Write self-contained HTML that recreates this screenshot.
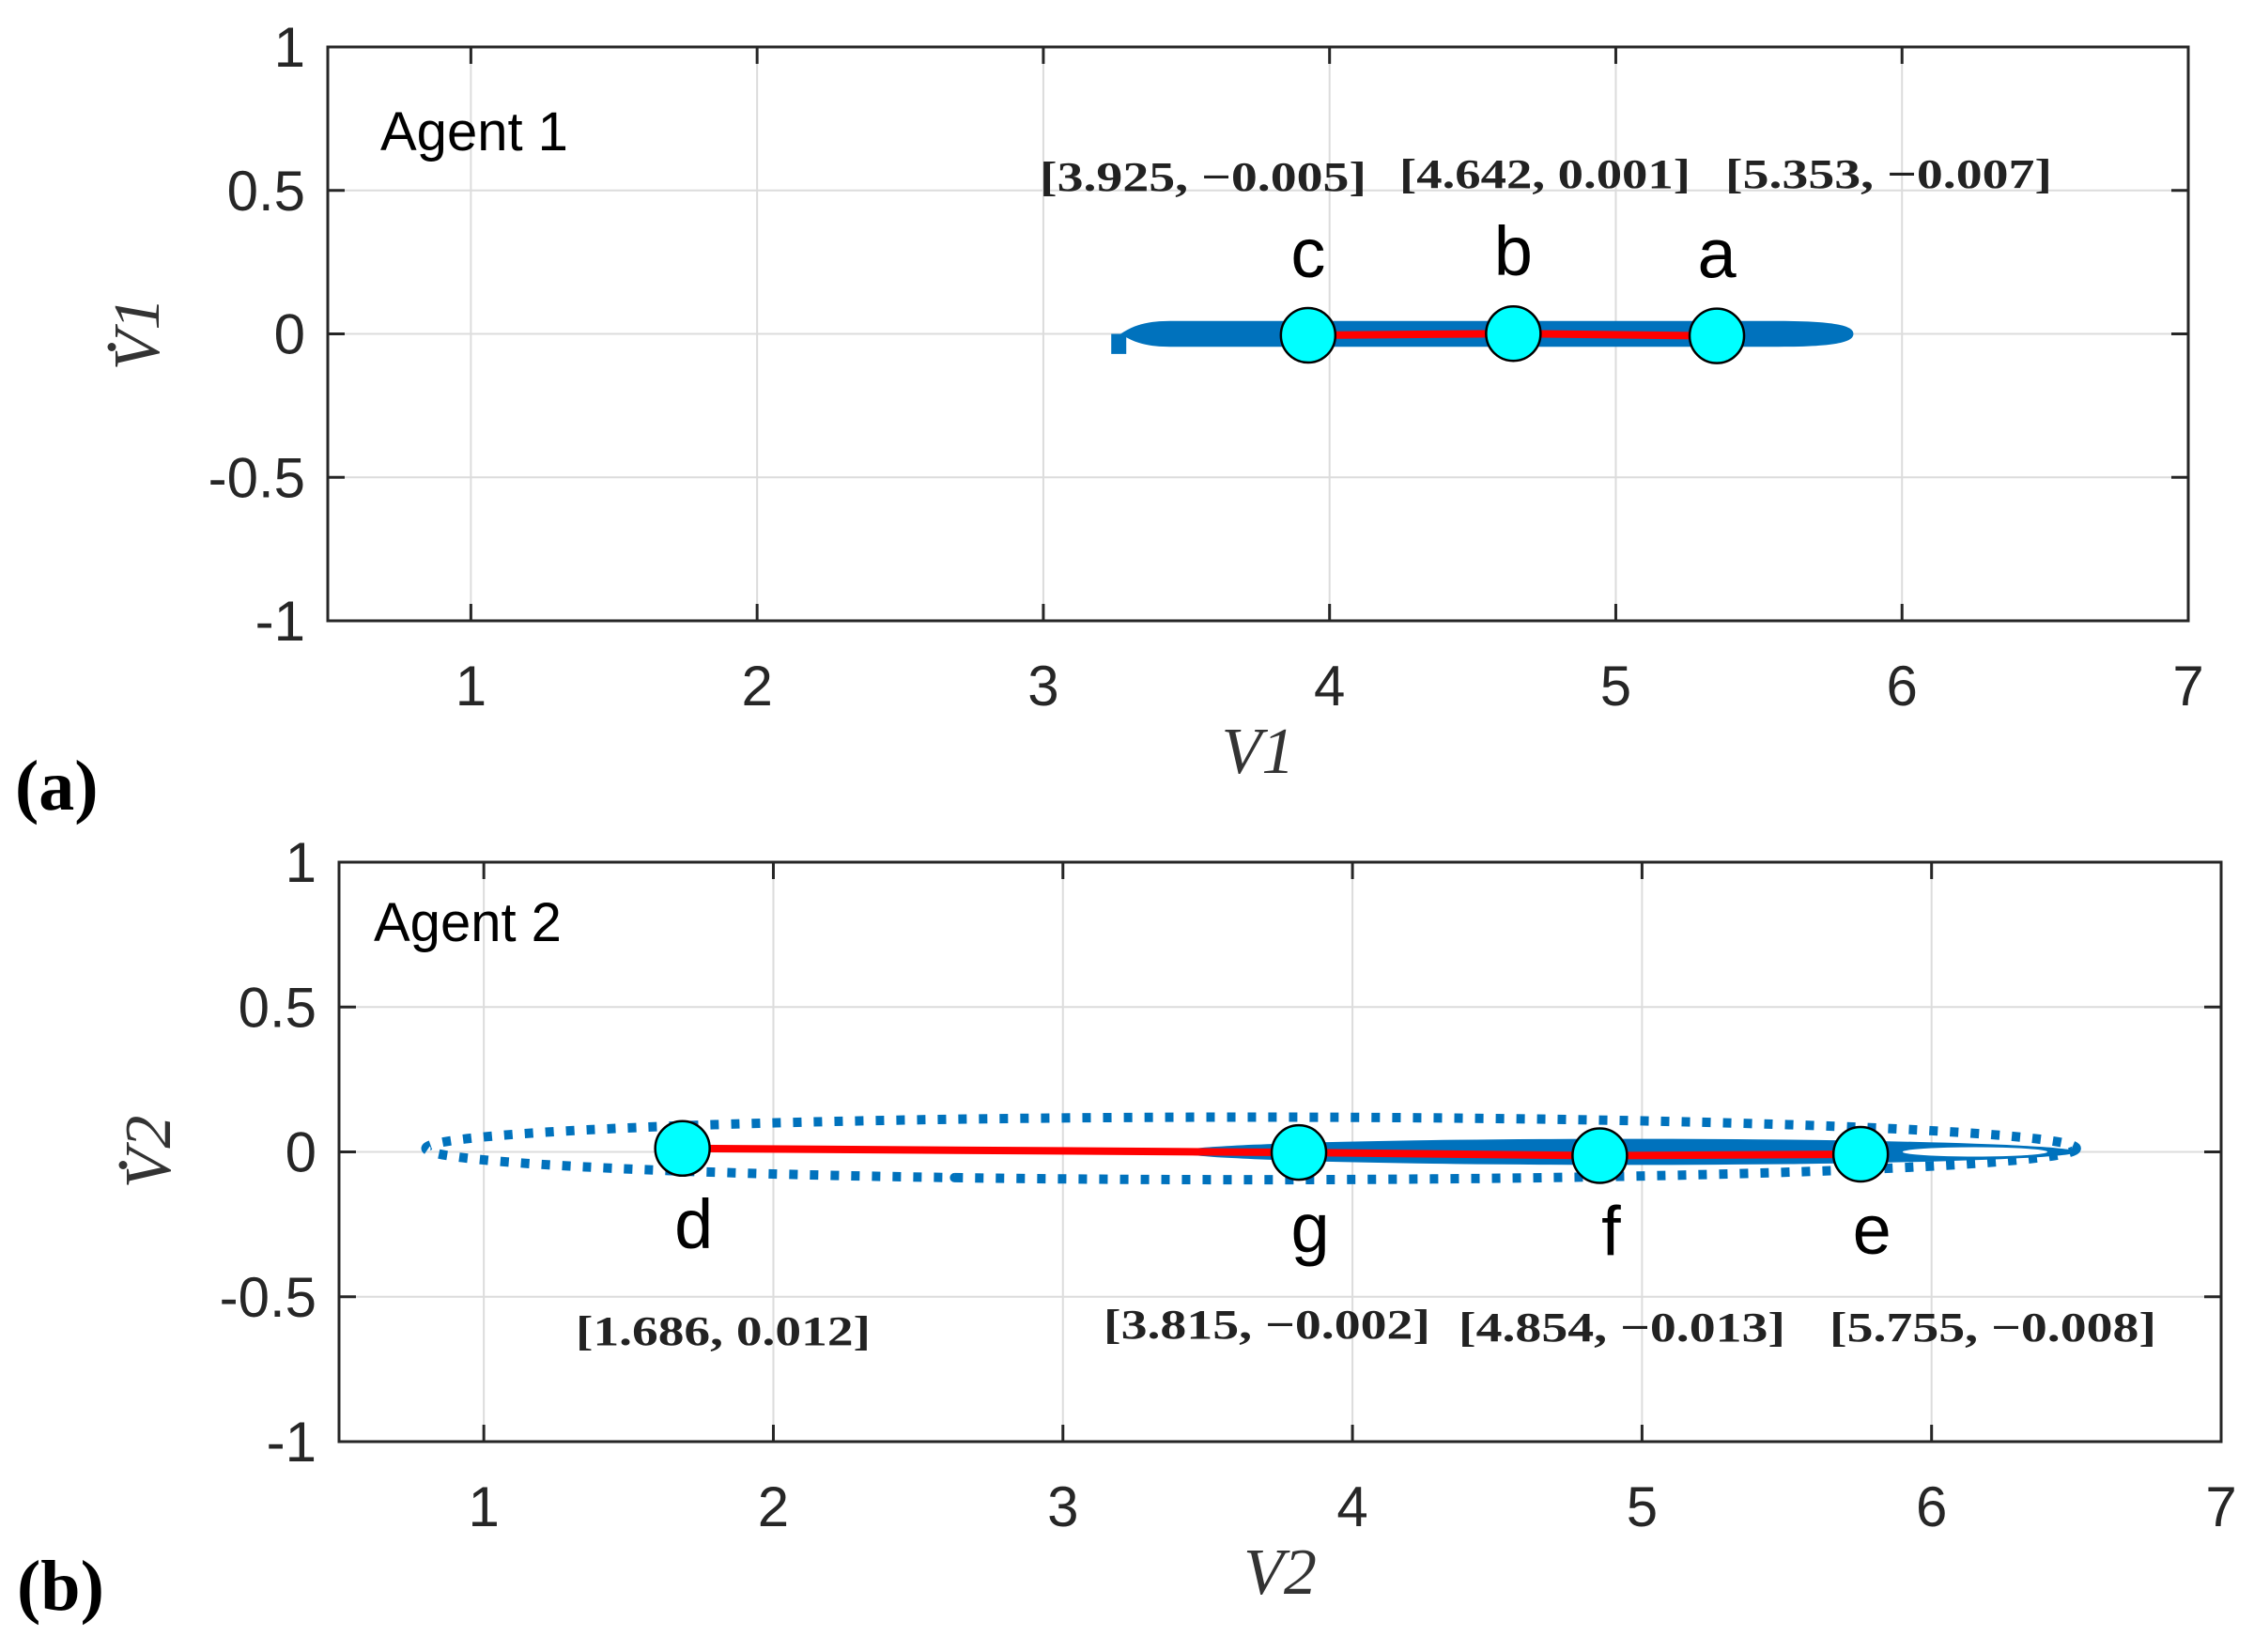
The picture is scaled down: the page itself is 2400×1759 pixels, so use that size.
<!DOCTYPE html>
<html><head><meta charset="utf-8"><style>
html,body{margin:0;padding:0;background:#fff;}
svg{display:block;}
</style></head><body>
<svg id="fig" width="2400" height="1759" viewBox="0 0 2400 1759" xmlns="http://www.w3.org/2000/svg"></svg>
<script>
// ---- data ----
const xTicks = [1,2,3,4,5,6,7];
const yTicks = [1,0.5,0,-0.5,-1];
const yTickLabels = ["1","0.5","0","-0.5","-1"];
// Agent 1 equilibrium points
const a1Names = ["a","b","c"];
const a1X = [5.353, 4.642, 3.925];
const a1Y = [-0.007, 0.001, -0.005];
// Agent 2 equilibrium points
const a2Names = ["d","g","f","e"];
const a2X = [1.686, 3.815, 4.854, 5.755];
const a2Y = [0.012, -0.002, -0.013, -0.008];
// trajectory envelopes: [xmin, xmax, yhalf]
const a1Band = [3.27, 5.83, 0.045];
const a2Outer = [0.8, 6.5, 0.108];
const a2Band = [3.4, 6.5, 0.045];

const NS = "http://www.w3.org/2000/svg";
const svg = document.getElementById('fig');
function mk(tag, attrs, parent){const e=document.createElementNS(NS,tag);for(const k in attrs)e.setAttribute(k,attrs[k]);(parent||svg).appendChild(e);return e;}

function panel(P){
  const g = mk('g',{});
  
  
  const sx = v => P.L + (v-0.5)/(6.5)*(P.R-P.L);
  const sy = v => P.T + (1-v)/2*(P.B-P.T);
  xTicks.forEach(t=>{ if(t<7){ const l=mk('line',{x1:sx(t),x2:sx(t),y1:P.T,y2:P.B,stroke:'#dcdcdc','stroke-width':2},g);
     }});
  yTicks.forEach(t=>{ const l=mk('line',{x1:P.L,x2:P.R,y1:sy(t),y2:sy(t),stroke:'#dcdcdc','stroke-width':2},g);
     });
  P.drawTraj(g, sx, sy);
  const pts = P.xs.map((x,i)=>sx(x)+','+sy(P.ys[i])).join(' ');
  const pl = mk('polyline',{points:pts,fill:'none',stroke:'#ff0000','stroke-width':8},g);
   
  P.xs.forEach((x,i)=>{
    const c=mk('circle',{cx:sx(x),cy:sy(P.ys[i]),r:29,fill:'#00ffff',stroke:'#000','stroke-width':2.5},g);
     
    const t=mk('text',{x:sx(x)+P.lblDx,y:sy(P.ys[i])+P.lblDy,'font-family':'Liberation Sans, sans-serif','font-size':74,'text-anchor':'middle',fill:'#000'},g);
    t.textContent=P.names[i];
     
    const a=mk('text',{x:P.annX[i],y:P.annY[i],'font-family':'Liberation Serif, serif','font-weight':'bold','font-size':44,'text-anchor':'middle',fill:'#222',textLength:P.annW[i],lengthAdjust:'spacingAndGlyphs'},g);
    a.textContent='['+x.toFixed(3)+', '+(P.ys[i]<0?'\u2212':'')+Math.abs(P.ys[i]).toFixed(3)+']';
     
  });
  const b=mk('rect',{x:P.L,y:P.T,width:P.R-P.L,height:P.B-P.T,fill:'none',stroke:'#262626','stroke-width':3},g);
   
  xTicks.forEach(t=>{
    if(t<7){ mk('line',{x1:sx(t),x2:sx(t),y1:P.B,y2:P.B-18,stroke:'#262626','stroke-width':3},g);
             mk('line',{x1:sx(t),x2:sx(t),y1:P.T,y2:P.T+18,stroke:'#262626','stroke-width':3},g);}
    const tl=mk('text',{x:sx(t),y:P.B+90,'font-family':'Liberation Sans, sans-serif','font-size':60,'text-anchor':'middle',fill:'#262626'},g);
    tl.textContent=t;  
  });
  yTicks.forEach((t,i)=>{
    mk('line',{x1:P.L,x2:P.L+18,y1:sy(t),y2:sy(t),stroke:'#262626','stroke-width':3},g);
    mk('line',{x1:P.R,x2:P.R-18,y1:sy(t),y2:sy(t),stroke:'#262626','stroke-width':3},g);
    const tl=mk('text',{x:P.L-24,y:sy(t)+21,'font-family':'Liberation Sans, sans-serif','font-size':60,'text-anchor':'end',fill:'#262626'},g);
    tl.textContent=yTickLabels[i];  
  });
  const ag=mk('text',{x:P.L+P.agentDx,y:P.T+P.agentDy,'font-family':'Liberation Sans, sans-serif','font-size':58,fill:'#000'},g);
  ag.textContent=P.agent;  
  const xl=mk('text',{x:(P.L+P.R)/2,y:P.B+162,'font-family':'Liberation Serif, serif','font-style':'italic','font-size':70,'text-anchor':'middle',fill:'#333'},g);
  xl.textContent=P.xlab;  
  const yc=(P.T+P.B)/2;
  const yl=mk('text',{x:0,y:0,transform:'translate('+(P.L-180)+','+yc+') rotate(-90)','font-family':'Liberation Serif, serif','font-style':'italic','font-size':70,'text-anchor':'middle',fill:'#333'},g);
  yl.textContent=P.ylab;  
  const yd=mk('circle',{cx:P.L-230,cy:yc+14,r:4.5,fill:'#333'},g);
   
  const pl2=mk('text',{x:P.plx,y:P.ply,'font-family':'Liberation Serif, serif','font-weight':'bold','font-size':76,fill:'#000'},g);
  pl2.textContent=P.plabel;  
}

panel({name:'panel-a-agent-1',L:349,R:2330,T:50,B:661,xs:a1X,ys:a1Y,names:a1Names,lblDx:0,lblDy:-62,
  annX:[1281,1645,2011].reverse(),annY:[200,200,203],annW:[348,310,348],
  agent:'Agent 1',agentDx:56,agentDy:110,xlab:'V1',ylab:'V1',plabel:'(a)',plx:16,ply:862,
  drawTraj:(g,sx,sy)=>{
    const x0=sx(a1Band[0]), x1=sx(a1Band[1]), h=sy(-a1Band[2])-sy(0);
    const p=mk('path',{d:'M'+x0+','+sy(0)+' C'+(x0+20)+','+(sy(0)-h)+' '+(x0+40)+','+(sy(0)-h)+' '+(x0+60)+','+(sy(0)-h)+' L'+(x1-80)+','+(sy(0)-h)+' C'+(x1-10)+','+(sy(0)-h)+' '+x1+','+(sy(0)-h/2)+' '+x1+','+sy(0)+' C'+x1+','+(sy(0)+h/2)+' '+(x1-10)+','+(sy(0)+h)+' '+(x1-80)+','+(sy(0)+h)+' L'+(x0+60)+','+(sy(0)+h)+' C'+(x0+40)+','+(sy(0)+h)+' '+(x0+20)+','+(sy(0)+h)+' '+x0+','+sy(0)+' Z',fill:'#0072bd'},g);
     
    const t=mk('rect',{x:x0-10,y:sy(0),width:16,height:sy(-0.07)-sy(0),fill:'#0072bd'},g);
     
  }});

panel({name:'panel-b-agent-2',L:361,R:2365,T:918,B:1535,xs:a2X,ys:a2Y,names:a2Names,lblDx:12,lblDy:106,
  annX:[770,1349,1727,2122],annY:[1432,1425,1428,1428],annW:[314,348,348,348],
  agent:'Agent 2',agentDx:37,agentDy:84,xlab:'V2',ylab:'V2',plabel:'(b)',plx:18,ply:1714,
  drawTraj:(g,sx,sy)=>{
    const o=mk('ellipse',{cx:(sx(a2Outer[0])+sx(a2Outer[1]))/2,cy:sy(0.012),rx:(sx(a2Outer[1])-sx(a2Outer[0]))/2,ry:sy(-a2Outer[2])-sy(0),fill:'none',stroke:'#0072bd','stroke-width':10,'stroke-dasharray':'9 13'},g);
     
    const e=mk('ellipse',{cx:(sx(a2Band[0])+sx(a2Band[1]))/2,cy:sy(0),rx:(sx(a2Band[1])-sx(a2Band[0]))/2,ry:sy(-a2Band[2])-sy(0),fill:'#0072bd'},g);
     
    const w=mk('ellipse',{cx:(sx(5.9)+sx(6.4))/2,cy:sy(0),rx:(sx(6.4)-sx(5.9))/2,ry:5,fill:'#ffffff'},g);
     
  }});
</script>
</body></html>
